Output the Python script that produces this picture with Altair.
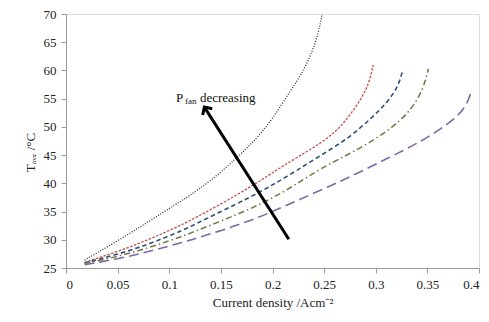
import altair as alt
import pandas as pd

# Series data (x = current density, T = average temperature)
dot_x = [0.018, 0.05, 0.08, 0.108, 0.118, 0.14, 0.165, 0.185, 0.200, 0.218, 0.229, 0.238, 0.2446, 0.248]
dot_t = [26.4, 29.8, 33.2, 36.5, 37.6, 40.4, 44.4, 48.0, 51.4, 56.6, 59.6, 63.1, 66.6, 70.0]

red_x = [0.018, 0.05, 0.08, 0.108, 0.118, 0.15, 0.18, 0.2, 0.222, 0.254, 0.27, 0.286, 0.2937, 0.2975]
red_t = [26.0, 27.9, 30.0, 32.3, 33.2, 36.3, 39.5, 41.9, 44.4, 47.9, 50.8, 54.9, 57.8, 61.0]

blue_x = [0.018, 0.05, 0.08, 0.108, 0.118, 0.15, 0.18, 0.2, 0.222, 0.247, 0.273, 0.295, 0.311, 0.322, 0.326]
blue_t = [25.9, 27.4, 29.2, 31.3, 32.1, 35.0, 37.7, 39.7, 42.1, 45.0, 47.9, 51.4, 54.3, 57.2, 60.0]

green_x = [0.018, 0.05, 0.08, 0.108, 0.118, 0.15, 0.18, 0.2, 0.222, 0.247, 0.279, 0.311, 0.333, 0.346, 0.351]
green_t = [25.8, 27.0, 28.6, 30.3, 31.0, 33.3, 35.6, 37.4, 39.7, 42.7, 45.6, 49.1, 52.6, 56.6, 60.3]

purple_x = [0.018, 0.05, 0.08, 0.108, 0.118, 0.15, 0.18, 0.2, 0.222, 0.273, 0.311, 0.343, 0.368, 0.387, 0.393]
purple_t = [25.6, 26.6, 27.9, 29.3, 29.8, 31.6, 33.5, 35.0, 36.8, 40.9, 44.4, 47.3, 50.2, 53.1, 56.6]

x_ticks = [0, 0.05, 0.1, 0.15, 0.2, 0.25, 0.3, 0.35, 0.4]
y_ticks = [25, 30, 35, 40, 45, 50, 55, 60, 65, 70]

# Arrow (tail -> tip) and annotation anchor, in data units
arrow_x = [0.2158, 0.134]
arrow_t = [30.1, 53.5]
note_x = [0.1065]
note_t = [55.2]

FONT = "Liberation Serif"

xs = alt.Scale(domain=[0, 0.4], nice=False, zero=False)
ys = alt.Scale(domain=[25, 70], nice=False, zero=False)

xaxis = alt.Axis(values=x_ticks, format="~g", title="Current density /Acm⁻²",
                 grid=False, domainColor="#9a9a9a", tickColor="#9a9a9a", tickSize=5,
                 labelFont=FONT, labelFontSize=13, labelColor="#222", labelPadding=5,
                 titleFont=FONT, titleFontSize=13, titleFontWeight="normal", titleColor="#222",
                 titleY=34, titleBaseline="middle")
yaxis = alt.Axis(values=y_ticks, title="Tₐᵥₑ /°C",
                 grid=False, domainColor="#9a9a9a", tickColor="#9a9a9a", tickSize=5,
                 labelFont=FONT, labelFontSize=13, labelColor="#222", labelPadding=5,
                 titleFont=FONT, titleFontSize=13, titleFontWeight="normal", titleColor="#222",
                 titleX=-36, titleY=138, titleBaseline="middle", titleAlign="center")

def X():
    return alt.X("x:Q", scale=xs, axis=xaxis)

def Y():
    return alt.Y("T:Q", scale=ys, axis=yaxis)

series = [
    (dot_x, dot_t, "#222222", [1, 1.6], 1.2),
    (red_x, red_t, "#c0504d", [2.5, 1.5], 1.3),
    (blue_x, blue_t, "#2f4f7a", [4.5, 3], 1.6),
    (green_x, green_t, "#6f7a45", [6, 3, 1.5, 3], 1.5),
    (purple_x, purple_t, "#7f68a8", [10, 5], 1.6),
]

layers = []
for sx, st, col, dash, w in series:
    df = pd.DataFrame({"x": sx, "T": st})
    layers.append(
        alt.Chart(df).mark_line(color=col, strokeDash=dash, strokeWidth=w, interpolate="basis").encode(
            x=X(), y=Y())
    )

adf = pd.DataFrame({"x": arrow_x, "T": arrow_t, "o": [0, 1]})
arrow_line = alt.Chart(adf).mark_line(color="black", strokeWidth=3).encode(x=X(), y=Y(), order="o:Q")
head = alt.Chart(adf.iloc[[1]]).mark_point(
    shape="M -1 1 L 0 0 L 1 1", filled=False, color="black", strokeWidth=3,
    size=130, angle=327, opacity=1).encode(x=X(), y=Y())

ndf = pd.DataFrame({"x": note_x, "T": note_t})
def note(txt, dx, dy, size):
    return alt.Chart(ndf).mark_text(text=txt, align="left", baseline="middle", dx=dx, dy=dy,
                                    font=FONT, fontSize=size, color="#111").encode(x=X(), y=Y())

chart = alt.layer(*layers, arrow_line, head,
                  note("P", 0, 0, 13), note("fan", 9, 3, 9), note("decreasing", 24, 0, 13)).properties(
    width=413, height=254,
    autosize=alt.AutoSizeParams(type="none"),
    padding={"left": 58, "top": 6, "right": 2, "bottom": 42},
).configure_view(stroke="#9a9a9a", strokeWidth=1.5).configure(
    background="white", font=FONT
).configure_axis(labelFont=FONT, titleFont=FONT)

chart.save("out.html", embed_options={"renderer": "svg", "actions": False})
